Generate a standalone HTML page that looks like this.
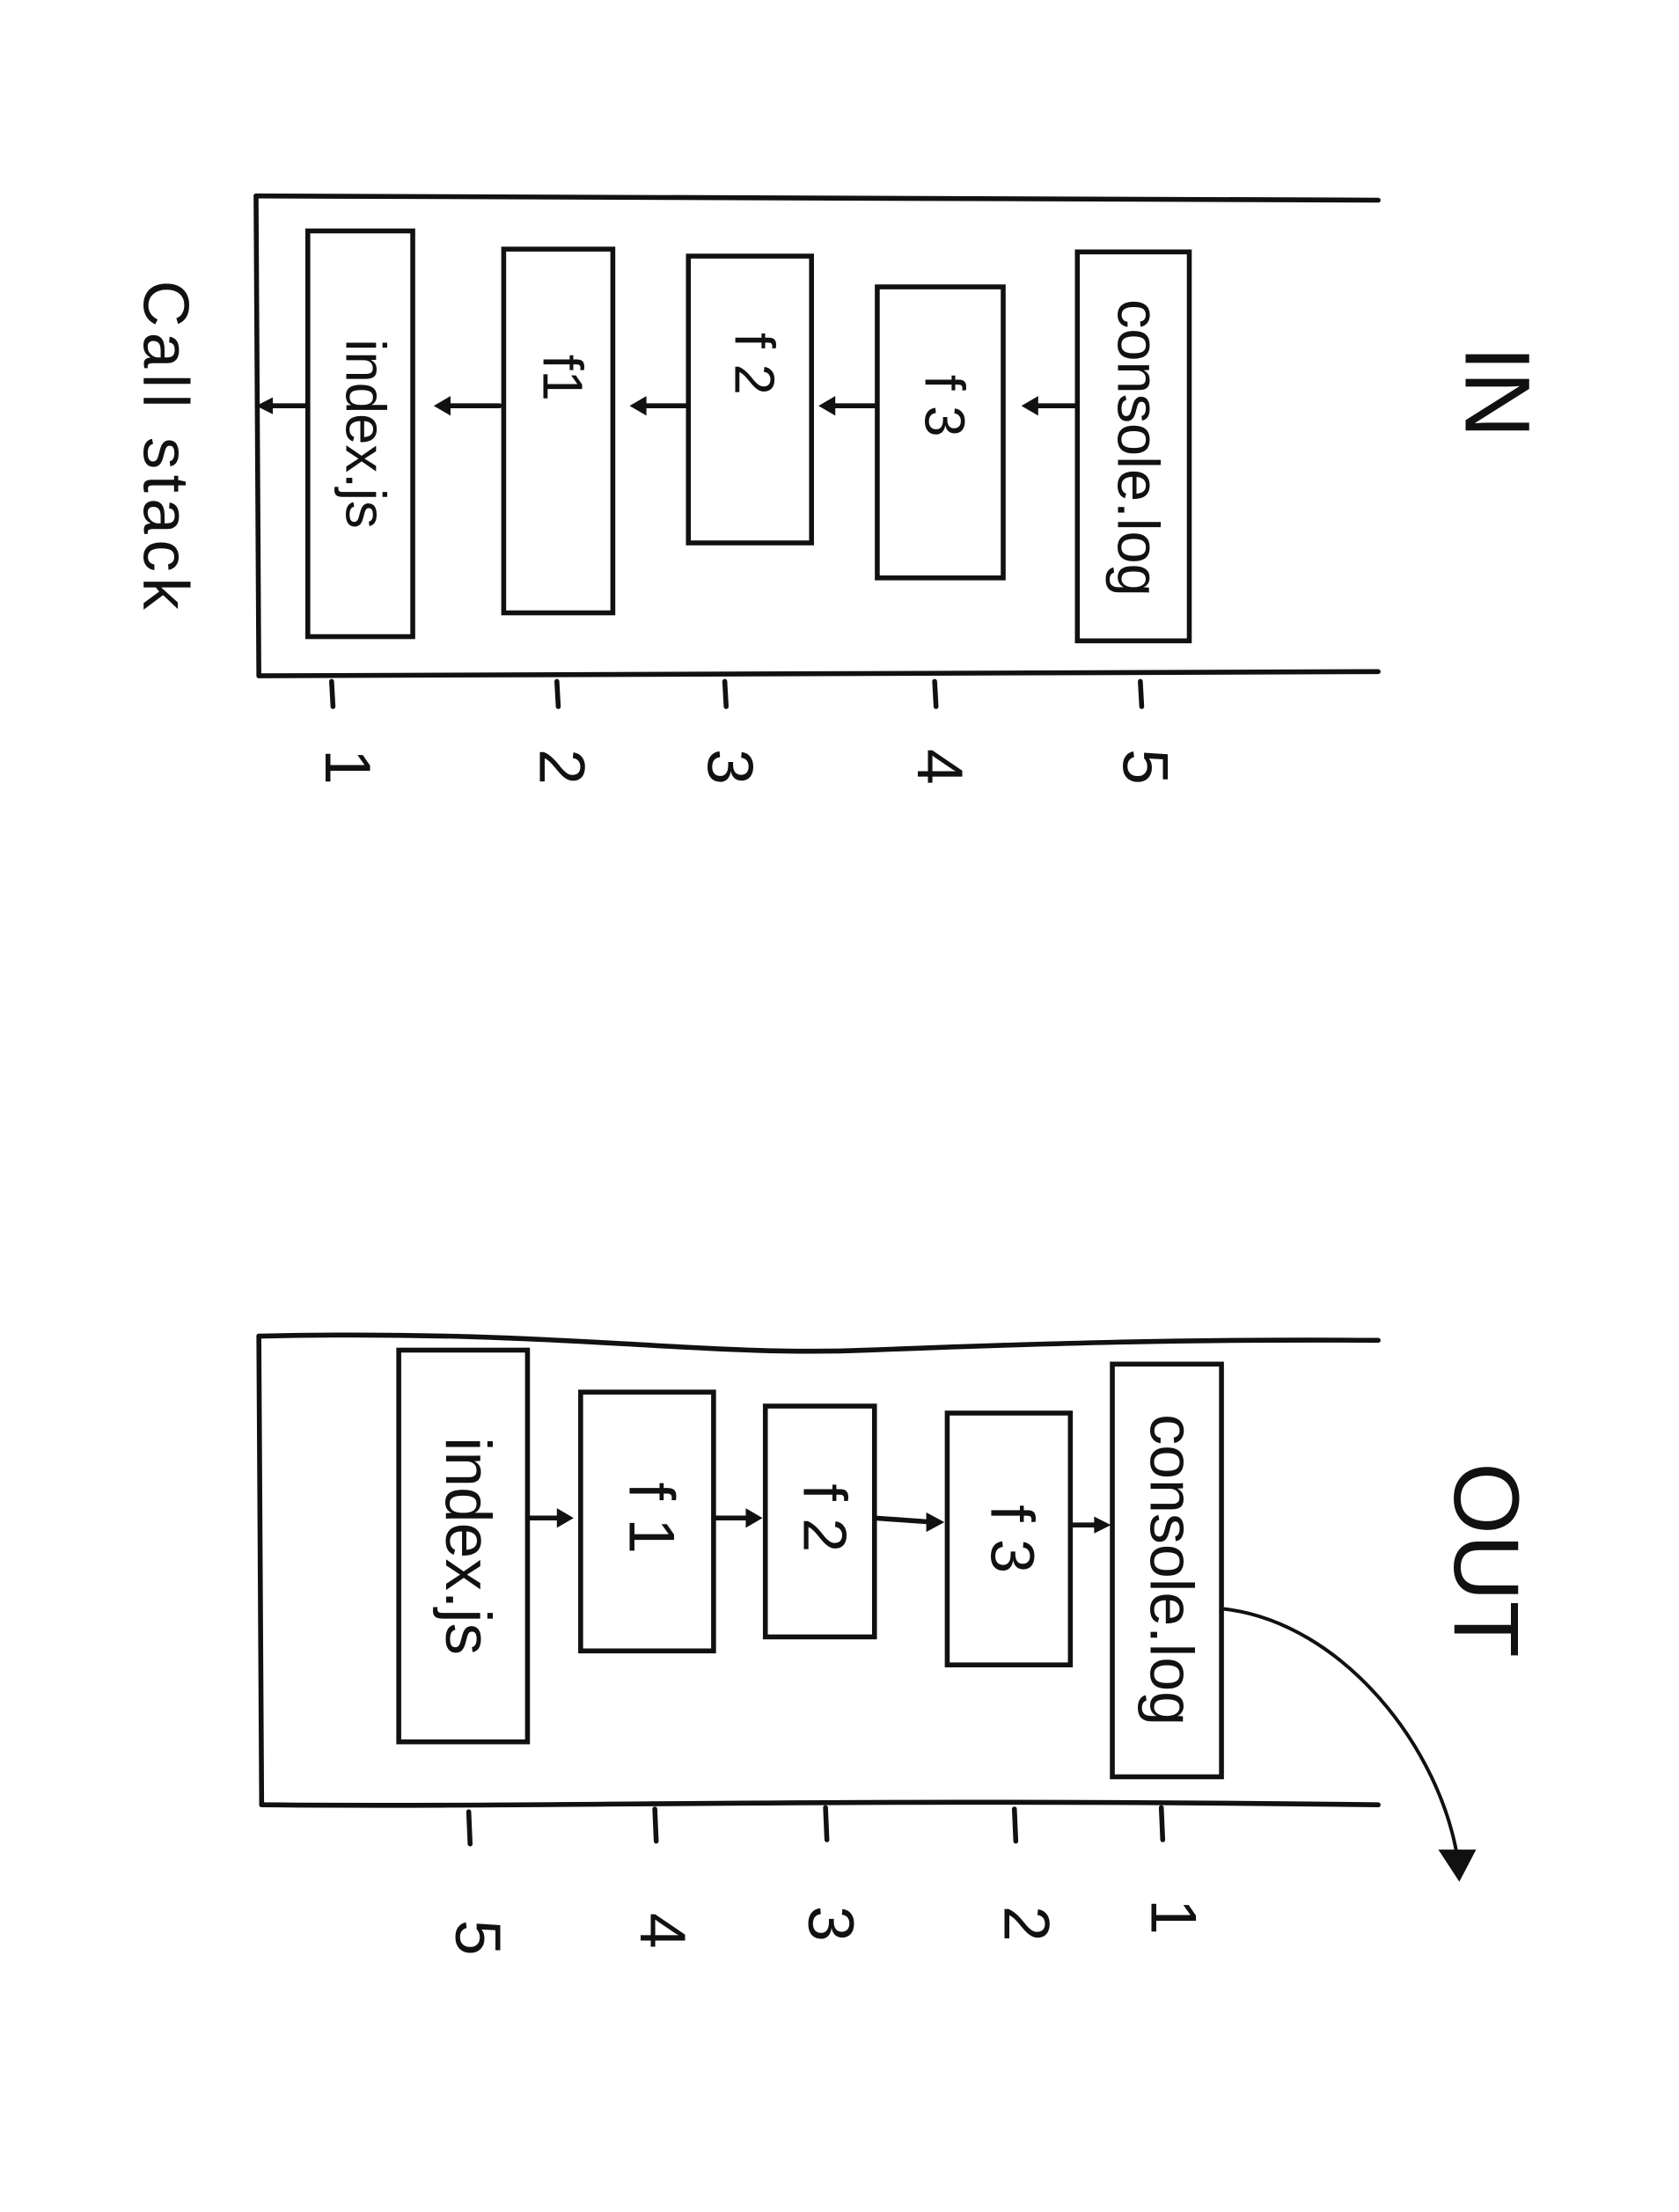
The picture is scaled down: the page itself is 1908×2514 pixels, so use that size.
<!DOCTYPE html>
<html><head><meta charset="utf-8">
<style>
html,body{margin:0;padding:0;background:#fff;}
svg{display:block}
text{font-family:"Liberation Sans",sans-serif;fill:#111}
</style></head>
<body>
<svg width="1908" height="2514" viewBox="0 0 1200 1581" xmlns="http://www.w3.org/2000/svg">
<rect width="1200" height="1581" fill="#fff"/>
<g stroke="#111" stroke-width="3.5" fill="none" stroke-linecap="round">
 <!-- IN panel frame -->
 <g>
  <path d="M183 140 L985 143"/>
  <path d="M183 140 L185 483"/>
  <path d="M185 483 L985 480"/>
 </g>
 <g>
  <rect x="220" y="165" width="75" height="290"/>
  <rect x="360" y="178" width="78" height="260"/>
  <rect x="492" y="183" width="88" height="205"/>
  <rect x="627" y="205" width="90" height="208"/>
  <rect x="770" y="180" width="80" height="278"/>
 </g>
 <g>
  <path d="M768 290 L735 290"/><path d="M625 290 L590 290"/><path d="M490 290 L455 290"/><path d="M357 290 L315 290"/><path d="M220 290 L188 290"/>
 </g>
 <g>
  <path d="M237 487 L238 505"/><path d="M398 487 L399 505"/><path d="M518 487 L519 505"/><path d="M668 487 L669 505"/><path d="M815 487 L816 505"/>
 </g>
 <!-- OUT panel frame -->
 <g>
  <path d="M185 955 C400 950 500 970 620 965 C750 960 850 957 985 958"/>
  <path d="M185 955 L187 1290"/>
  <path d="M187 1290 C400 1292 600 1285 985 1290"/>
 </g>
 <g>
  <rect x="285" y="965" width="92" height="280"/>
  <rect x="415" y="995" width="95" height="185"/>
  <rect x="547" y="1005" width="78" height="165"/>
  <rect x="677" y="1010" width="88" height="180"/>
  <rect x="795" y="975" width="78" height="295"/>
 </g>
 <g>
  <path d="M377 1085 L403 1085"/><path d="M510 1085 L538 1085"/><path d="M625 1085 L667 1088"/><path d="M767 1090 L787 1090"/>
 </g>
 <path d="M875 1150 C960 1160 1030 1250 1042 1330" stroke-width="2.5"/>
 <g>
  <path d="M335 1295 L336 1318"/><path d="M468 1293 L469 1316"/><path d="M590 1292 L591 1315"/><path d="M725 1293 L726 1316"/><path d="M830 1292 L831 1315"/>
 </g>
</g>
<g fill="#111">
 <path d="M742 283 L730 290 L742 297Z"/><path d="M597 283 L585 290 L597 297Z"/><path d="M462 283 L450 290 L462 297Z"/><path d="M322 283 L310 290 L322 297Z"/><path d="M195 284 L183 290 L195 296Z"/>
 <path d="M398 1078 L410 1085 L398 1092Z"/><path d="M533 1078 L545 1085 L533 1092Z"/><path d="M662 1081 L675 1088 L662 1095Z"/><path d="M782 1084 L794 1090 L782 1096Z"/>
 <path d="M1028 1322 L1055 1322 L1043 1345Z"/>
</g>
<!-- rotated labels -->
<g font-size="40">
 <text transform="translate(258 310) rotate(90)" text-anchor="middle" dominant-baseline="middle">index.js</text>
 <text transform="translate(399 270) rotate(90)" text-anchor="middle" dominant-baseline="middle">f1</text>
 <text transform="translate(536 260) rotate(90)" text-anchor="middle" dominant-baseline="middle">f 2</text>
 <text transform="translate(672 290) rotate(90)" text-anchor="middle" dominant-baseline="middle">f 3</text>
 <text transform="translate(810 320) rotate(90)" text-anchor="middle" dominant-baseline="middle" font-size="42">console.log</text>
 <text transform="translate(331 1105) rotate(90)" text-anchor="middle" dominant-baseline="middle" font-size="46">index.js</text>
 <text transform="translate(462 1085) rotate(90)" text-anchor="middle" dominant-baseline="middle" font-size="46">f 1</text>
 <text transform="translate(586 1085) rotate(90)" text-anchor="middle" dominant-baseline="middle" font-size="44">f 2</text>
 <text transform="translate(720 1100) rotate(90)" text-anchor="middle" dominant-baseline="middle" font-size="44">f 3</text>
 <text transform="translate(834 1122) rotate(90)" text-anchor="middle" dominant-baseline="middle" font-size="44">console.log</text>
</g>
<g font-size="46">
 <text transform="translate(245 548) rotate(90)" text-anchor="middle" dominant-baseline="middle">1</text>
 <text transform="translate(398 548) rotate(90)" text-anchor="middle" dominant-baseline="middle">2</text>
 <text transform="translate(518 548) rotate(90)" text-anchor="middle" dominant-baseline="middle">3</text>
 <text transform="translate(668 548) rotate(90)" text-anchor="middle" dominant-baseline="middle">4</text>
 <text transform="translate(815 548) rotate(90)" text-anchor="middle" dominant-baseline="middle">5</text>
 <text transform="translate(338 1385) rotate(90)" text-anchor="middle" dominant-baseline="middle">5</text>
 <text transform="translate(470 1380) rotate(90)" text-anchor="middle" dominant-baseline="middle">4</text>
 <text transform="translate(590 1375) rotate(90)" text-anchor="middle" dominant-baseline="middle">3</text>
 <text transform="translate(730 1375) rotate(90)" text-anchor="middle" dominant-baseline="middle">2</text>
 <text transform="translate(835 1370) rotate(90)" text-anchor="middle" dominant-baseline="middle">1</text>
</g>
<text transform="translate(1065 280) rotate(90)" text-anchor="middle" dominant-baseline="middle" font-size="66">IN</text>
<text transform="translate(1057 1115) rotate(90)" text-anchor="middle" dominant-baseline="middle" font-size="66">OUT</text>
<text transform="translate(115 320) rotate(90)" text-anchor="middle" dominant-baseline="middle" font-size="46" letter-spacing="4">Call stack</text>
</svg>
</body></html>
